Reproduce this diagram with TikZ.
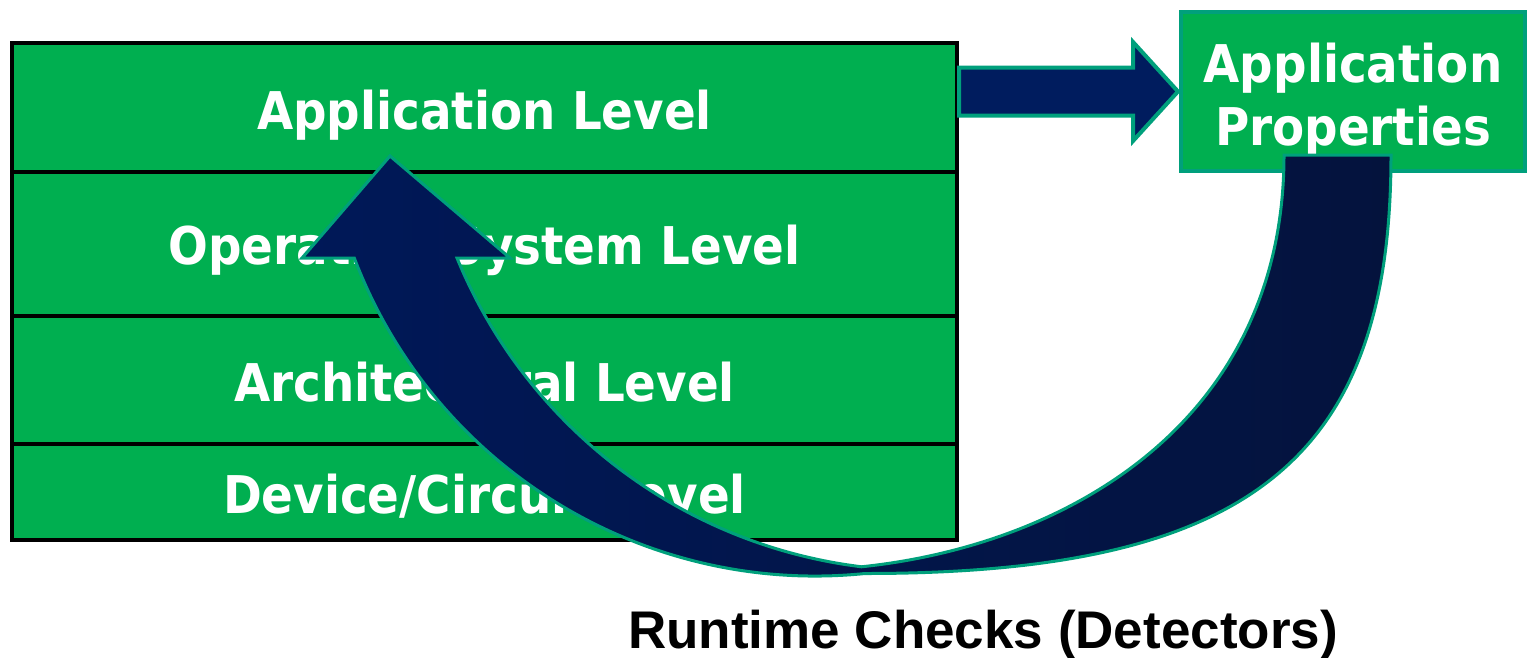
\documentclass[tikz,border=0pt]{standalone}
\usepackage{fontspec}
\usetikzlibrary{calc}
\newfontfamily\lvlfont[FakeStretch=0.9]{DejaVu Sans}
\newfontfamily\capfont{Liberation Sans}
\definecolor{lvgreen}{HTML}{00AF50}
\definecolor{tealline}{HTML}{00A07C}
\definecolor{navyA}{HTML}{001C5E}
\definecolor{navyL}{HTML}{001858}
\definecolor{navyR}{HTML}{04133D}
\tikzset{
  level/.style={draw=black, line width=3.5pt, fill=lvgreen, rectangle,
    minimum width=945pt, inner sep=0pt, outer sep=0pt},
  lbl/.style={text=white, font=\lvlfont\bfseries\fontsize{52}{58}\selectfont,
    inner sep=0pt, anchor=base},
  propbox/.style={draw=tealline, line width=4pt, fill=lvgreen, rectangle,
    minimum width=344pt, minimum height=159pt, inner sep=0pt, outer sep=0pt,
    text=white, align=center},
  bigarrow/.style={draw=tealline, line width=4pt, fill=navyA, line join=miter},
  curvearrow/.style={draw=tealline, line width=3pt, left color=navyL,
    right color=navyR, line join=miter}
}
\begin{document}
\begin{tikzpicture}[x=1pt,y=-1pt]
\useasboundingbox (0,0) rectangle (1528,657);
% level stack
\node[level, minimum height=129pt] (l1) at (484.5,107.5) {};
\node[level, minimum height=144pt] (l2) at (484.5,244) {};
\node[level, minimum height=128pt] (l3) at (484.5,380) {};
\node[level, minimum height=96pt]  (l4) at (484.5,492) {};
\node[lbl] (t1) at (484.5,129) {Application Level};
\node[lbl] (t2) at (484.5,264) {Operating System Level};
\node[lbl] (t3) at (484.5,401) {Architectural Level};
\node[lbl] (t4) at (484.5,513) {Device/Circuit Level};
% properties box
\node[propbox] (props) at (1353,91.5) {};
\node[lbl] (p1) at (1353,82) {Application};
\node[lbl] (p2) at (1353,145) {Properties};
% straight block arrow from stack to properties box
\coordinate (as) at (l1.east |- props.west);
\coordinate (tip) at ($(props.west)+(-3,0)$);
\draw[bigarrow] ($(as)+(2,-24)$) -- (1133,67.5) -- (1133,42) -- (tip)
  -- (1133,141) -- (1133,115.5) -- ($(as)+(2,24)$) -- cycle;
% curved arrow (runtime checks) from properties back to application level
\coordinate (cs1) at (1391,155);
\coordinate (cs2) at (1284,155);
\path[curvearrow]
  (cs1) .. controls (1391,460) and (1249,573.5) .. (865,573.5)
  arc[start angle=84.2, end angle=159.2, radius=493]
  -- (302,258) -- (390,156) -- (510,258) -- (457,258)
  arc[start angle=157.7, end angle=97.0, radius=503.6]
  .. controls (1070,545) and (1284,420) .. (cs2)
  -- cycle;
% caption
\node[font=\capfont\bfseries\fontsize{53}{60}\selectfont, inner sep=0pt,
  anchor=base] (cap) at (983,648) {Runtime Checks (Detectors)};
\end{tikzpicture}
\end{document}
